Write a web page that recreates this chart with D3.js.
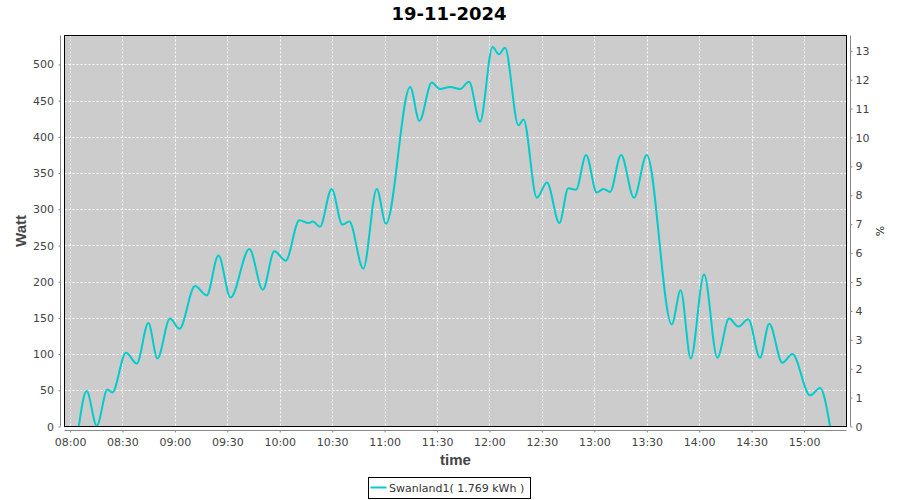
<!DOCTYPE html>
<html>
<head>
<meta charset="utf-8">
<script src="https://cdn.jsdelivr.net/npm/d3@7"></script>
<style>
  html, body { margin: 0; padding: 0; background: #fff; }
  svg { display: block; }
</style>
</head>
<body>
<svg id="chart" width="900" height="500"></svg>
<script>
// ---- data ----
const title = "19-11-2024";
const seriesName = "Swanland1( 1.769 kWh )";
// minutes after 08:00
const minutesAfter8 = [5.0, 9.5, 15.3, 21.4, 24.2, 32.0, 38.2, 44.8, 50.0, 57.2, 62.6, 71.5, 78.2, 84.9, 91.9,
  102.6, 110.3, 116.9, 123.4, 131.2, 136.4, 138.9, 143.0, 149.7, 155.8, 159.8, 167.8, 175.5, 180.8,
  194.6, 199.9, 207.0, 211.7, 217.4, 223.2, 228.3, 234.6, 241.8, 245.4, 248.9, 256.6, 259.5, 267.1,
  272.9, 280.0, 285.1, 289.5, 295.3, 301.4, 305.2, 309.0, 315.3, 322.7, 330.0, 344.3, 349.4, 355.2,
  362.8, 370.4, 377.1, 382.4, 388.1, 394.8, 400.1, 407.6, 413.3, 423.5, 429.2, 434.9];
const watt = [0, 49, 1, 51, 47, 102, 87, 143, 94, 149, 135, 194, 181, 236, 178,
  245, 189, 242, 229, 285, 281, 283, 276, 328, 279, 283, 218, 328, 280,
  469, 422, 475, 466, 469, 466, 476, 421, 524, 514, 523, 416, 424, 316,
  337, 281, 329, 327, 375, 323, 328, 324, 375, 316, 375, 141, 188, 94,
  210, 95, 149, 138, 148, 95, 142, 88, 100, 43, 53, 0];
const xTickLabels = ["08:00", "08:30", "09:00", "09:30", "10:00", "10:30", "11:00", "11:30",
  "12:00", "12:30", "13:00", "13:30", "14:00", "14:30", "15:00"];
const leftTicks = [0, 50, 100, 150, 200, 250, 300, 350, 400, 450, 500];
const rightTicks = [0, 1, 2, 3, 4, 5, 6, 7, 8, 9, 10, 11, 12, 13];

// ---- layout ----
const L = 64.5, R = 846.5, T = 35.5, B = 426.5;
const lineColor = "#00cccc";
const tickFont = "DejaVu Sans, sans-serif";

const svg = d3.select("#chart");
const day = new Date(2024, 10, 19);
const at = (h, m, s) => new Date(2024, 10, 19, h, m, s || 0);
const base = at(8, 0);
const parseHM = d3.timeParse("%H:%M");
const toDate = s => { const p = parseHM(s); return at(p.getHours(), p.getMinutes()); };

const x = d3.scaleTime().domain([at(7, 56, 50), at(15, 24, 18)]).range([L, R]);
const y = d3.scaleLinear().domain([0, 540]).range([B, T]);
const yR = d3.scaleLinear().domain([0, 13.53]).range([B, T]);

const data = minutesAfter8.map((m, i) => ({ t: new Date(base.getTime() + m * 60000), v: watt[i] }));

// plot background
svg.append("rect").attr("x", L).attr("y", T).attr("width", R - L).attr("height", B - T)
  .attr("fill", "#cccccc");

// gridlines
const grid = svg.append("g").attr("stroke", "#ffffff").attr("stroke-width", 1)
  .attr("stroke-dasharray", "2,2");
grid.selectAll("line.h").data(leftTicks.filter(d => d > 0)).join("line")
  .attr("x1", L).attr("x2", R)
  .attr("y1", d => Math.round(y(d)) + 0.5).attr("y2", d => Math.round(y(d)) + 0.5);
grid.selectAll("line.v").data(xTickLabels.map(toDate)).join("line")
  .attr("y1", T).attr("y2", B)
  .attr("x1", d => Math.round(x(d)) + 0.5).attr("x2", d => Math.round(x(d)) + 0.5);

// line
svg.append("defs").append("clipPath").attr("id", "clip")
  .append("rect").attr("x", L).attr("y", T).attr("width", R - L).attr("height", B - T);
const line = d3.line().x(d => x(d.t)).y(d => y(d.v)).curve(d3.curveMonotoneX);
svg.append("path").datum(data).attr("d", line).attr("fill", "none")
  .attr("stroke", lineColor).attr("stroke-width", 2).attr("clip-path", "url(#clip)");

// plot border
svg.append("rect").attr("x", L).attr("y", T).attr("width", R - L).attr("height", B - T)
  .attr("fill", "none").attr("stroke", "#000").attr("stroke-width", 1);

function styleAxis(g) {
  g.select(".domain").attr("stroke", "#888");
  g.selectAll(".tick line").attr("stroke", "#888");
  g.selectAll(".tick text").attr("fill", "#444").attr("font-family", tickFont).attr("font-size", 11);
}

// left axis
svg.append("g").attr("transform", `translate(60.5,0)`)
  .call(d3.axisLeft(y).tickValues(leftTicks).tickSize(2).tickSizeOuter(0).tickPadding(4.5))
  .call(styleAxis).call(g => g.select(".domain").attr("d", `M0,${T}V${B}`));

// right axis
svg.append("g").attr("transform", `translate(850.5,0)`)
  .call(d3.axisRight(yR).tickValues(rightTicks).tickSize(2).tickSizeOuter(0).tickPadding(3))
  .call(styleAxis).call(g => g.select(".domain").attr("d", `M0,${T}V${B}`));

// bottom axis
svg.append("g").attr("transform", `translate(0,430.5)`)
  .call(d3.axisBottom(x).tickValues(xTickLabels.map(toDate)).tickFormat(d3.timeFormat("%H:%M"))
    .tickSize(2).tickSizeOuter(0).tickPadding(6))
  .call(styleAxis).call(g => g.select(".domain").attr("d", `M${L},0H${R}`));

// title
svg.append("text").attr("x", 449).attr("y", 20).attr("text-anchor", "middle")
  .attr("font-family", "DejaVu Sans, sans-serif").attr("font-weight", "bold").attr("font-size", 18)
  .attr("fill", "#000").text(title);

// axis labels
svg.append("text").attr("transform", `translate(26,${(T + B) / 2}) rotate(-90)`)
  .attr("text-anchor", "middle").attr("font-family", "Liberation Sans, Arial, sans-serif")
  .attr("font-weight", "bold").attr("font-size", 15).attr("fill", "#444").text("Watt");
svg.append("text").attr("x", (L + R) / 2).attr("y", 465).attr("text-anchor", "middle")
  .attr("font-family", "Liberation Sans, Arial, sans-serif")
  .attr("font-weight", "bold").attr("font-size", 15).attr("fill", "#444").text("time");
svg.append("text").attr("transform", `translate(884,${(T + B) / 2}) rotate(-90)`)
  .attr("text-anchor", "middle").attr("font-family", tickFont)
  .attr("font-size", 11).attr("fill", "#222").text("%");

// legend
const lg = svg.append("g");
lg.append("rect").attr("x", 368.5).attr("y", 477.5).attr("width", 162).attr("height", 21)
  .attr("fill", "#fff").attr("stroke", "#000");
lg.append("line").attr("x1", 370.5).attr("x2", 386.5).attr("y1", 487.5).attr("y2", 487.5)
  .attr("stroke", lineColor).attr("stroke-width", 2);
lg.append("text").attr("x", 389).attr("y", 492).attr("font-family", tickFont)
  .attr("font-size", 11).attr("fill", "#333").text(seriesName);
</script>
</body>
</html>
